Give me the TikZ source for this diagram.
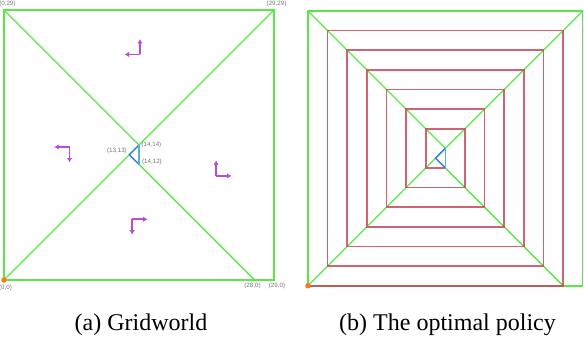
\documentclass[tikz,border=0pt]{standalone}
\usepackage{fontspec}
\setmainfont{Liberation Serif}
\setsansfont{Liberation Sans}
\usepackage{tikz}
\usetikzlibrary{
  arrows.meta,
  positioning
}

\definecolor{gridgreen}{RGB}{90,232,70}
\definecolor{pathred}{RGB}{200,72,92}
\definecolor{triblue}{RGB}{60,120,225}
\definecolor{trilight}{RGB}{95,170,225}
\definecolor{actpurple}{RGB}{185,75,220}
\definecolor{startorange}{RGB}{250,120,30}

\begin{document}
\begin{tikzpicture}[
  x=1pt, y=1pt,
  gridframe/.style={draw=gridgreen, line width=1.6pt},
  gridsplit/.style={draw=gridgreen, line width=1.3pt},
  policypath/.style={draw=pathred, line width=1.7pt, draw opacity=0.85},
  centretri/.style={draw=triblue, line width=1.4pt},
  actarrow/.style={draw=actpurple, line width=1.6pt, -{Latex[length=4.5pt,width=5.5pt]}},
  gridlabel/.style={font=\sffamily\fontsize{6.2}{7}\selectfont, text=black!55, inner sep=0pt},
  figcaption/.style={font=\fontsize{24}{28}\selectfont, anchor=base},
]
\useasboundingbox (0,0) rectangle (584,338);

% (a) gridworld
\begin{scope}[shift={(4,58)}, x=9.64pt, y=9.64pt]
\coordinate (a00) at (0,0);
\coordinate (a0t) at (0,28);
\coordinate (att) at (28,28);
\coordinate (a26) at (26,0);
\coordinate (a14) at (14,14);
\coordinate (a13) at (13,13);
\coordinate (a12) at (14,12);

\draw[gridframe] (a00) rectangle (att);
\draw[gridsplit] (a00) -- (att);
\draw[gridsplit] (a0t) -- (a14);
\draw[gridsplit] (a12) -- (a26);
\draw[centretri] (a14) -- (a13) -- (a12);
\draw[centretri, draw=trilight] (a14) -- (a12);

% actions per region
\foreach \cx/\cy/\px/\py/\qx/\qy in {14.1/23.4/14.1/25/12.5/23.4,
    6.8/13.8/5.2/13.8/6.8/12.2,
    22/10.8/22/12.4/23.6/10.8,
    13.3/6.3/14.9/6.3/13.3/4.7}{
  \coordinate (k) at (\cx,\cy);
  \draw[actarrow] (k) -- (\px,\py);
  \draw[actarrow] (k) -- (\qx,\qy);
}

\fill[startorange] (a00) circle (2.8pt);

\node[gridlabel] (l0t) at (0.35,28.6) {(0,29)};
\node[gridlabel] (ltt) at (28.27,28.63) {(29,29)};
\node[gridlabel] (l00) at (0.15,-0.83) {(0,0)};
\node[gridlabel] (l280) at (25.78,-0.62) {(28,0)};
\node[gridlabel] (l290) at (28.32,-0.62) {(29,0)};
\node[gridlabel] (l14) at (15.3,14.0) {(14,14)};
\node[gridlabel] (l13) at (11.72,13.38) {(13,13)};
\node[gridlabel] (l12) at (15.35,12.24) {(14,12)};
\end{scope}

% (b) optimal policy
\begin{scope}[shift={(308,52.3)}, x=9.81pt, y=9.81pt]
\coordinate (b00) at (0,0);
\coordinate (b0t) at (0,28);
\coordinate (btt) at (28,28);
\coordinate (b26) at (26,0);
\coordinate (b14) at (14,14);
\coordinate (b13) at (13,13);
\coordinate (b12) at (14,12);

\draw[gridframe] (b00) rectangle (btt);
\draw[gridsplit] (b00) -- (btt);
\draw[gridsplit] (b0t) -- (b14);
\draw[gridsplit] (b12) -- (b26);

\draw[policypath] (b12) foreach \a in {12,10,8,6,4,2}{
    -- (\a,\a) -- (\a,{28-\a}) -- ({28-\a},{28-\a}) -- ({28-\a},{\a-2})
  } -- (b00);

\draw[centretri] (b14) -- (b13) -- (b12);
\draw[centretri, draw=trilight] (b14) -- (b12);

\fill[startorange] (b00) circle (2.8pt);
\end{scope}

\node[figcaption] (capa) at (141,8) {(a) Gridworld};
\node[figcaption] (capb) at (447.5,8) {(b) The optimal policy};
\end{tikzpicture}
\end{document}
